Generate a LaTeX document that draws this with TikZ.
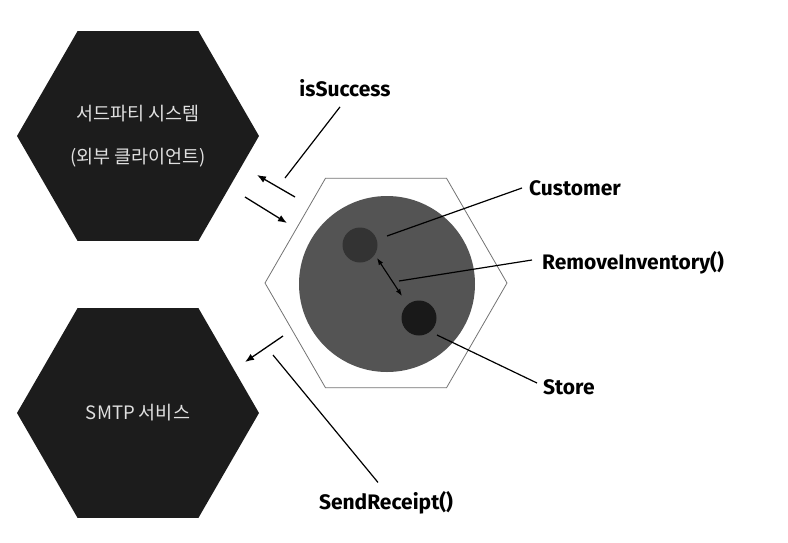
\documentclass[tikz,border=0pt]{standalone}
\usepackage{fontspec}
\setmainfont{Fira Sans}
\newfontfamily\krfont{Noto Sans CJK KR}
\usetikzlibrary{arrows.meta,shapes.geometric}

\begin{document}
\begin{tikzpicture}[
  x=1pt, y=-1pt,
  hexa/.style={regular polygon, regular polygon sides=6, minimum size=242pt,
    inner sep=0pt, outer sep=0pt},
  extsys/.style={hexa, fill=black!89, text=black!12, font=\krfont\fontsize{18.5}{43}\selectfont,
    align=center},
  lbl/.style={font=\bfseries\fontsize{21}{24}\selectfont, inner sep=0pt},
  arr/.style={-{Latex[length=9pt,width=7pt]}, line width=1.3pt},
  lead/.style={line width=1.2pt}
]
  \useasboundingbox (0,0) rectangle (788,542);

  % external systems
  \node[extsys] (third) at (138,136) {서드파티 시스템\\(외부 클라이언트)};
  \node[extsys] (smtp) at (138,413) {SMTP 서비스};

  % application core
  \node[hexa, draw=black!55, line width=0.8pt] (app) at (386,283) {};
  \node[circle, fill=black!67, minimum size=176pt, inner sep=0pt] (domain) at (387,284) {};
  \node[circle, fill=black!80, minimum size=35pt, inner sep=0pt] (cust) at (360,245) {};
  \node[circle, fill=black!90, minimum size=35pt, inner sep=0pt] (store) at (419,318) {};

  % labels
  \node[lbl, anchor=west] (custlbl) at (529,188) {Customer};
  \node[lbl, anchor=west] (removelbl) at (542,263) {RemoveInventory()};
  \node[lbl, anchor=west] (storelbl) at (543,387) {Store};
  \node[lbl] (successlbl) at (345,88) {isSuccess};
  \node[lbl] (receiptlbl) at (386,503) {SendReceipt()};

  \coordinate (custpt) at (387,236);
  \coordinate (removept) at (399,281);
  \coordinate (storept) at (437,335);
  \coordinate (successpt) at (285,178);
  \coordinate (receiptpt) at (273,355);

  \draw[lead] (custlbl.west) ++(-7,0) -- (custpt);
  \draw[lead] (removelbl.west) ++(-10,-3) -- (removept);
  \draw[lead] (storelbl.west) ++(-6,-4) -- (storept);
  \draw[lead] (successlbl.south) ++(-5,10) -- (successpt);
  \draw[lead] (receiptlbl.north) ++(-8,-9) -- (receiptpt);

  % call directions
  \coordinate (inA) at (245,197);
  \coordinate (inB) at (287,223);
  \coordinate (outA) at (295,197);
  \coordinate (outB) at (257,175);
  \coordinate (mailA) at (283,336);
  \coordinate (mailB) at (245,362);
  \draw[arr] (inA) -- (inB);
  \draw[arr] (outA) -- (outB);
  \draw[arr] (mailA) -- (mailB);
  \draw[{Latex[length=7pt,width=5pt]}-{Latex[length=7pt,width=5pt]}, line width=1.1pt]
    (cust) ++(17,13) -- (402,296);
\end{tikzpicture}
\end{document}
